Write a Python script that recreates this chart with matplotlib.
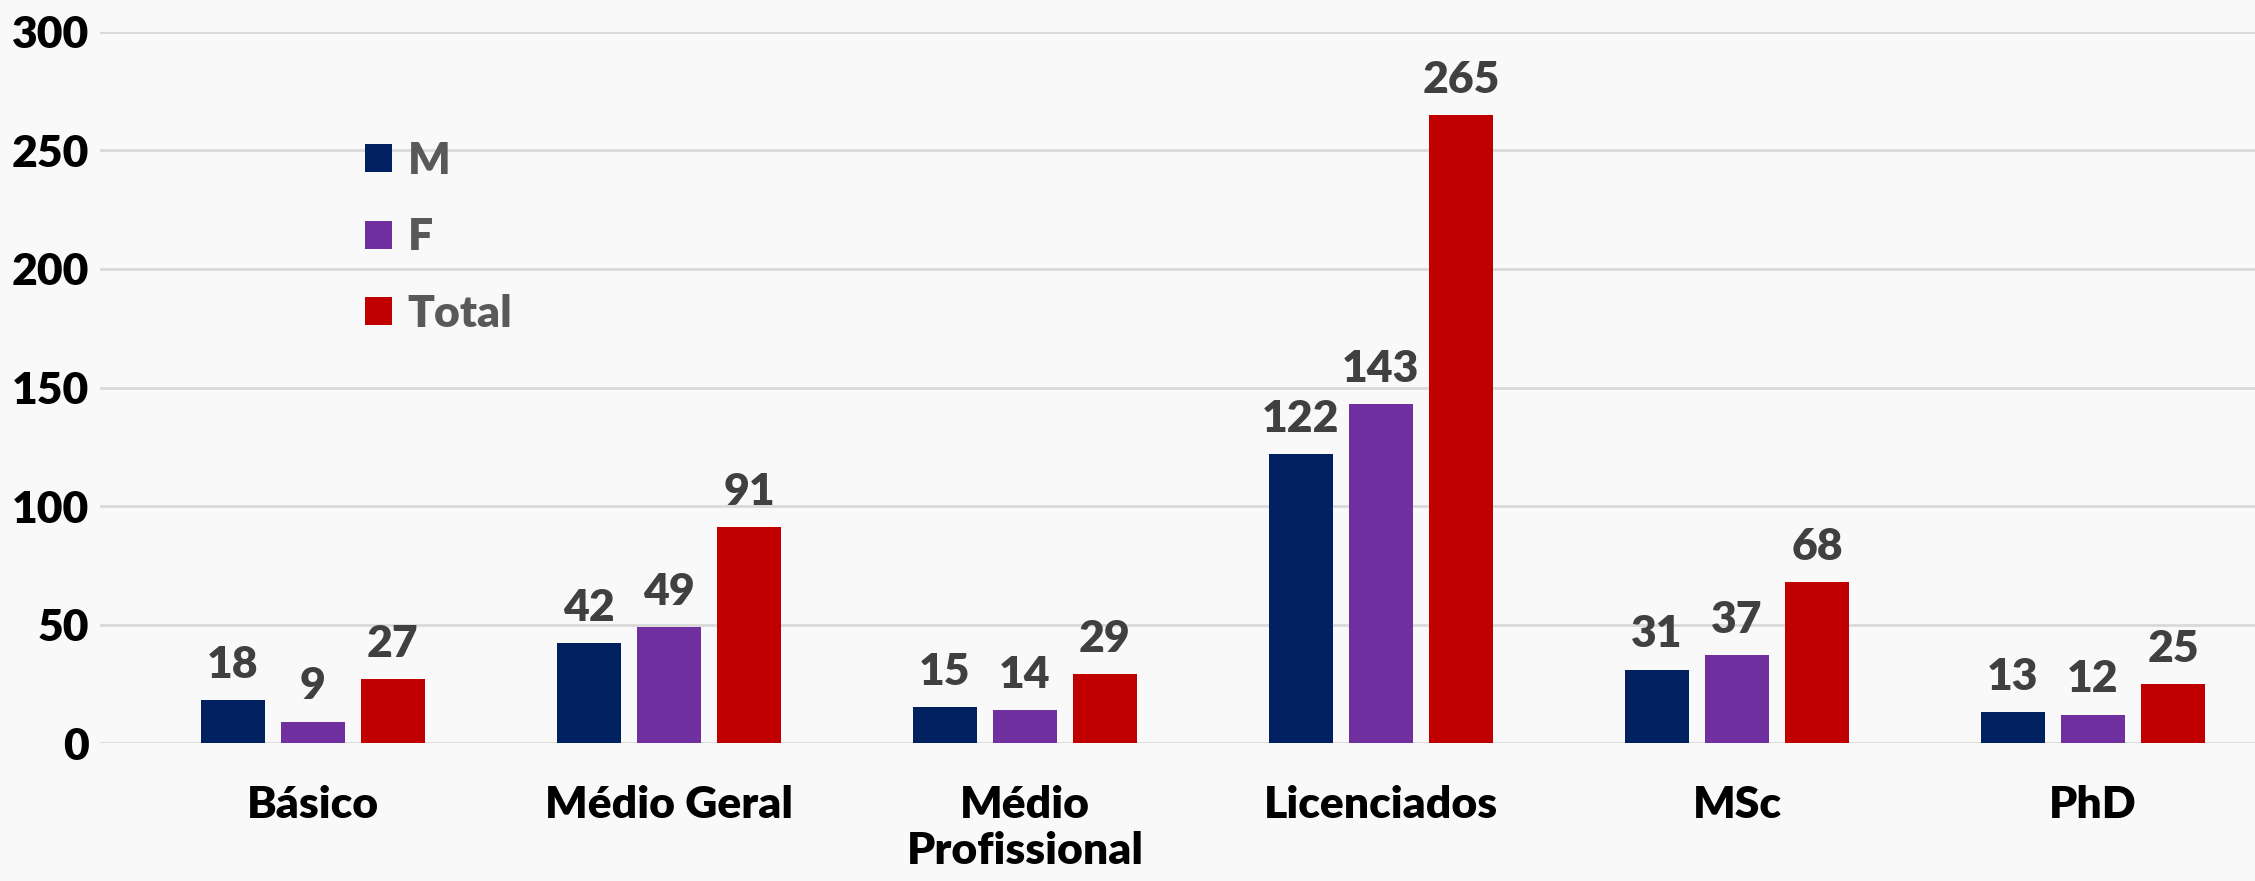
import numpy as np
import matplotlib
matplotlib.use("Agg")
import matplotlib.pyplot as plt
from matplotlib.patches import Patch

# dados
categorias = ["Básico", "Médio Geral", "Médio\nProfissional", "Licenciados", "MSc", "PhD"]
masculino = [18, 42, 15, 122, 31, 13]
feminino = [9, 49, 14, 143, 37, 12]
total = [27, 91, 29, 265, 68, 25]
series_nomes = ["M", "F", "Total"]
yticks = [0, 50, 100, 150, 200, 250, 300]

cores = ["#002060", "#7030A0", "#C00000"]

plt.rcParams['font.family'] = ['Lato', 'DejaVu Sans']
plt.rcParams['font.weight'] = 'bold'

fig = plt.figure(figsize=(22.55, 8.81), dpi=100)
fig.patch.set_facecolor('#f9f9f9')
ax = fig.add_axes([0.0443, 0.1566, 0.9557, 0.8071])
ax.set_facecolor('#f9f9f9')

x = np.arange(len(categorias))
offset = 0.225
largura = 0.18

for i, (vals, nome) in enumerate(zip([masculino, feminino, total], series_nomes)):
    barras = ax.bar(x + (i - 1) * offset, vals, width=largura, color=cores[i], label=nome, zorder=3)
    ax.bar_label(barras, padding=11, fontsize=32, fontweight='heavy', color='#404040')

ax.set_ylim(0, 300)
ax.set_xlim(-0.598, 5.455)
ax.set_yticks(yticks)
ax.set_yticklabels([str(v) for v in yticks], fontsize=32, fontweight='heavy', color='black')
ax.set_xticks(x)
ax.set_xticklabels(categorias, fontsize=32, fontweight='heavy', color='black', linespacing=1.2)
ax.tick_params(axis='y', length=0, pad=8)
ax.tick_params(axis='x', length=0, pad=30)

ax.grid(axis='y', color='#d9d9d9', linewidth=2, zorder=0)
for s in ax.spines.values():
    s.set_visible(False)

handles = [Patch(facecolor=c, label=n) for c, n in zip(cores, series_nomes)]
leg = fig.legend(handles=handles, loc='upper left', bbox_to_anchor=(0.162, 0.84),
                 frameon=False, fontsize=32, handlelength=0.6, handleheight=0.6,
                 handletextpad=0.35, labelspacing=0.82, borderpad=0, borderaxespad=0)
for t in leg.get_texts():
    t.set_color('#595959')
    t.set_fontweight('heavy')

fig.savefig("out.png", dpi=100, facecolor=fig.get_facecolor())
